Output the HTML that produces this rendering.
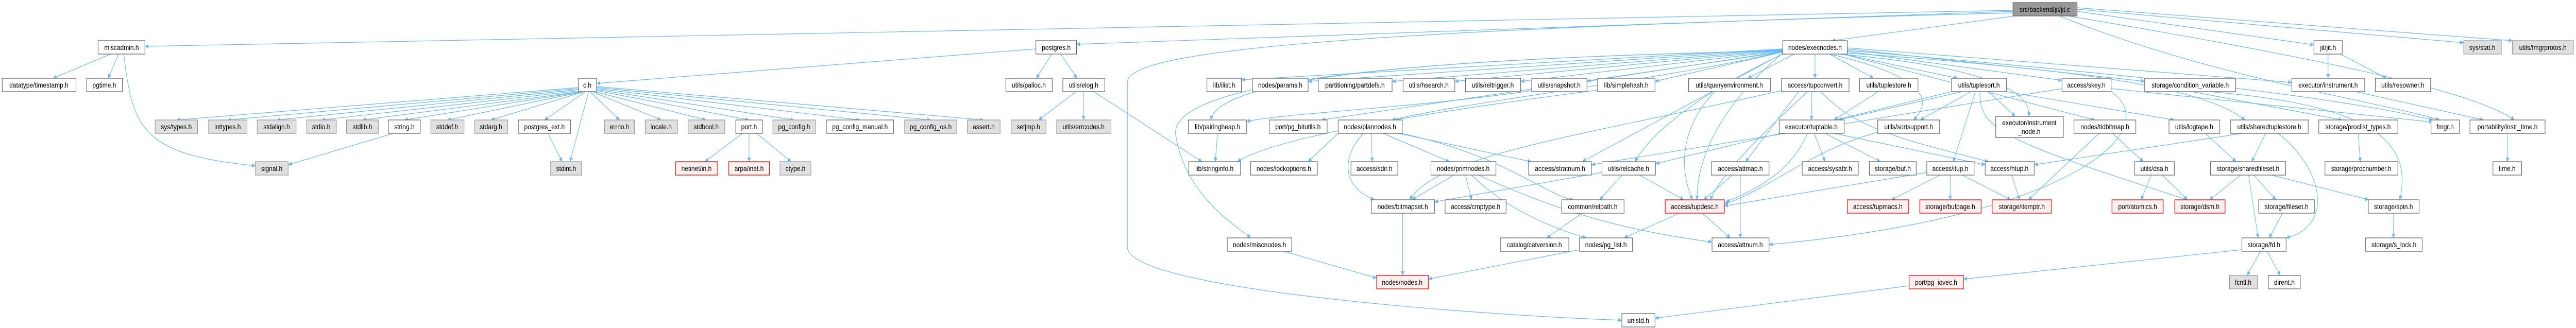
<!DOCTYPE html>
<html><head><meta charset="utf-8"><style>
html,body{margin:0;padding:0;background:#fff;width:100%;height:100%;overflow:hidden;}
svg{display:block;width:100%;height:100%;}
text{font-family:"Liberation Sans",Arial,sans-serif;font-size:14px;fill:#000;text-anchor:middle;}
.n{fill:#fff;stroke:#666;stroke-width:1.3}
.g{fill:#e0e0e0;stroke:#999;stroke-width:1.3}
.r{fill:#fff0f0;stroke:#f00;stroke-width:1.3}
.t{fill:#999;stroke:#666;stroke-width:1.3}
path{fill:none;stroke:#63b8ff;stroke-width:1.2;marker-end:url(#a)}
</style></head><body>
<svg viewBox="0 0 5829 637" preserveAspectRatio="none" xmlns="http://www.w3.org/2000/svg">
<defs><marker id="a" viewBox="0 0 10 10" refX="10" refY="5" markerWidth="11" markerHeight="8" markerUnits="userSpaceOnUse" orient="auto"><polygon points="0,0 10,5 0,10" fill="#63b8ff" style="stroke:none"/></marker></defs>
<g>
<path d="M4555 20 L328 90"/>
<path d="M4555 22 L2436 86"/>
<path d="M4560 31 L4145 79"/>
<path d="M4700 22 L5236 87"/>
<path d="M4700 18 L5575 83"/>
<path d="M4700 15 L5685 79"/>
<path d="M4680 31 C5300 120,5600 180,5690 233"/>
<path d="M4660 31 C5000 150,5400 200,5520 233"/>
<path d="M4555 25 C3000 60,2551 100,2551 160 L2551 480 C2551 560,3300 610,3670 622"/>
<path d="M1309 170 L399 233"/>
<path d="M1309 172 L515 233"/>
<path d="M1309 174 L626 233"/>
<path d="M1312 176 L727 233"/>
<path d="M1315 178 L820 233"/>
<path d="M1318 178 L915 233"/>
<path d="M1320 178 L1012 233"/>
<path d="M1322 178 L1111 233"/>
<path d="M1325 178 L1232 233"/>
<path d="M1332 178 L1290 314"/>
<path d="M1335 178 L1402 233"/>
<path d="M1340 178 L1496 233"/>
<path d="M1345 178 L1598 233"/>
<path d="M1350 176 L1695 233"/>
<path d="M1350 174 L1797 233"/>
<path d="M1350 172 L1946 233"/>
<path d="M1350 170 L2106 233"/>
<path d="M1350 168 L2226 233"/>
<path d="M250 105 L120 152"/>
<path d="M268 105 L245 152"/>
<path d="M280 105 C300 250,320 300,578 322"/>
<path d="M890 259 L652 320"/>
<path d="M1240 259 L1272 314"/>
<path d="M1680 259 L1595 314"/>
<path d="M1695 259 L1695 314"/>
<path d="M1712 259 L1790 314"/>
<path d="M2344 95 L1350 162"/>
<path d="M2380 105 L2345 152"/>
<path d="M2400 105 L2437 152"/>
<path d="M2435 178 L2350 233"/>
<path d="M2452 178 L2452 233"/>
<path d="M2475 178 L2720 314"/>
<path d="M2755 259 L2750 314"/>
<path d="M3615 175 C3300 210,2900 260,2800 314"/>
<path d="M4034 95 L2809 155"/>
<path d="M4034 96 L2960 158"/>
<path d="M4034 97 L3150 158"/>
<path d="M4034 98 L3292 158"/>
<path d="M4034 99 L3441 158"/>
<path d="M4034 100 L3591 158"/>
<path d="M4034 101 L3745 158"/>
<path d="M4060 105 L3955 152"/>
<path d="M4107 105 L4107 152"/>
<path d="M4140 105 L4240 152"/>
<path d="M4170 105 L4430 152"/>
<path d="M4180 100 L4666 156"/>
<path d="M4180 95 L4853 158"/>
<path d="M4180 93 L5186 160"/>
<path d="M4180 98 C4900 150,5300 190,5505 233"/>
<path d="M4034 100 C3800 150,3300 200,3150 233"/>
<path d="M4034 98 C3500 110,2760 130,2740 233"/>
<path d="M4034 99 C3400 110,2650 140,2660 260 C2680 380,2800 440,2830 462"/>
<path d="M4140 105 C4370 150,4370 200,4330 233"/>
<path d="M4160 105 C4500 130,4600 180,4590 226"/>
<path d="M4170 105 L4740 233"/>
<path d="M4180 103 C4800 140,5000 180,5080 233"/>
<path d="M4034 103 C3900 200,3840 300,3840 388"/>
<path d="M4034 105 C3800 200,3720 280,3700 314"/>
<path d="M4034 101 L2990 233"/>
<path d="M4034 104 L3580 314"/>
<path d="M4100 178 L4099 233"/>
<path d="M4070 178 L3950 314"/>
<path d="M4090 178 C4000 250,3900 330,3870 388"/>
<path d="M4120 178 C4200 250,4300 270,4500 314"/>
<path d="M4031 176 C3600 260,3250 300,3190 388"/>
<path d="M4250 178 L4150 233"/>
<path d="M4440 178 L4160 233"/>
<path d="M4460 178 L4345 233"/>
<path d="M4500 178 L4560 226"/>
<path d="M4470 178 L4420 314"/>
<path d="M4540 178 L4920 233"/>
<path d="M4480 178 C4480 250,4520 270,4950 388"/>
<path d="M4416 178 L3746 318"/>
<path d="M4777 178 C4900 250,4700 420,4003 475"/>
<path d="M4666 172 L3601 320"/>
<path d="M4777 172 L5505 237"/>
<path d="M4960 178 L5300 233"/>
<path d="M5000 178 C5300 200,5470 250,5430 388"/>
<path d="M5330 178 L5620 233"/>
<path d="M3880 178 C3800 250,3800 330,3830 388"/>
<path d="M3466 176 C3200 210,2900 220,2821 236"/>
<path d="M5268 105 L5268 152"/>
<path d="M5296 105 L5400 152"/>
<path d="M5674 259 L5674 314"/>
<path d="M5336 259 L5341 314"/>
<path d="M5127 259 L5095 314"/>
<path d="M5155 259 C5260 330,5280 440,5173 462"/>
<path d="M5075 259 L4603 320"/>
<path d="M4990 259 L5060 314"/>
<path d="M5070 340 L5000 388"/>
<path d="M5100 340 L5150 388"/>
<path d="M5088 340 L5110 462"/>
<path d="M5140 340 L5360 388"/>
<path d="M5165 414 L5135 462"/>
<path d="M5115 488 L5085 535"/>
<path d="M5130 488 L5160 535"/>
<path d="M5073 485 L4443 542"/>
<path d="M4320 555 L3745 618"/>
<path d="M5416 414 L5416 462"/>
<path d="M4105 259 L4130 314"/>
<path d="M4130 259 L4255 314"/>
<path d="M4150 259 L4492 320"/>
<path d="M4090 259 C4060 320,4000 360,3905 392"/>
<path d="M4249 257 C4100 290,4000 370,3902 396"/>
<path d="M4390 340 L4280 388"/>
<path d="M4413 340 L4413 388"/>
<path d="M4440 340 L4550 388"/>
<path d="M4360 335 L3902 400"/>
<path d="M4552 340 L4570 388"/>
<path d="M4750 259 L4590 388"/>
<path d="M4780 259 L4850 314"/>
<path d="M4868 340 L4845 388"/>
<path d="M4893 340 L4950 388"/>
<path d="M3103 259 L3105 314"/>
<path d="M3130 259 L3280 314"/>
<path d="M3165 259 L3465 314"/>
<path d="M3085 259 C3040 300,3030 360,3110 388"/>
<path d="M3170 259 C3400 300,3500 380,3560 388"/>
<path d="M3028 259 L2960 314"/>
<path d="M3290 340 L3195 388"/>
<path d="M3316 340 L3330 388"/>
<path d="M3330 340 C3400 400,3500 440,3590 462"/>
<path d="M3345 340 C3550 420,3700 450,3874 470"/>
<path d="M3625 335 L3246 392"/>
<path d="M3670 340 L3620 388"/>
<path d="M3710 340 L3810 388"/>
<path d="M3920 340 L3855 388"/>
<path d="M3938 340 L3938 462"/>
<path d="M3852 414 L3915 462"/>
<path d="M3800 414 L3675 462"/>
<path d="M3580 414 L3500 462"/>
<path d="M3174 414 L3174 535"/>
<path d="M3574 485 L3232 542"/>
<path d="M2905 488 L3115 540"/>
</g>
<g>
<rect class="t" x="4555" y="5" width="145" height="26"/><text x="4627" y="23">src/backend/jit/jit.c</text>
<rect class="n" x="222" y="79" width="106" height="26"/><text x="275" y="97">miscadmin.h</text>
<rect class="n" x="2344" y="79" width="92" height="26"/><text x="2390" y="97">postgres.h</text>
<rect class="n" x="4034" y="79" width="146" height="26"/><text x="4107" y="97">nodes/execnodes.h</text>
<rect class="n" x="5236" y="79" width="64" height="26"/><text x="5268" y="97">jit/jit.h</text>
<rect class="g" x="5575" y="79" width="85" height="26"/><text x="5617" y="97">sys/stat.h</text>
<rect class="g" x="5685" y="79" width="138" height="26"/><text x="5754" y="97">utils/fmgrprotos.h</text>
<rect class="n" x="5" y="152" width="167" height="26"/><text x="88" y="170">datatype/timestamp.h</text>
<rect class="n" x="196" y="152" width="81" height="26"/><text x="236" y="170">pgtime.h</text>
<rect class="n" x="1309" y="152" width="41" height="26"/><text x="1329" y="170">c.h</text>
<rect class="n" x="2276" y="152" width="105" height="26"/><text x="2328" y="170">utils/palloc.h</text>
<rect class="n" x="2405" y="152" width="95" height="26"/><text x="2452" y="170">utils/elog.h</text>
<rect class="n" x="2731" y="152" width="78" height="26"/><text x="2770" y="170">lib/ilist.h</text>
<rect class="n" x="2834" y="152" width="126" height="26"/><text x="2897" y="170">nodes/params.h</text>
<rect class="n" x="2983" y="152" width="167" height="26"/><text x="3066" y="170">partitioning/partdefs.h</text>
<rect class="n" x="3175" y="152" width="117" height="26"/><text x="3233" y="170">utils/hsearch.h</text>
<rect class="n" x="3316" y="152" width="125" height="26"/><text x="3378" y="170">utils/reltrigger.h</text>
<rect class="n" x="3466" y="152" width="125" height="26"/><text x="3528" y="170">utils/snapshot.h</text>
<rect class="n" x="3615" y="152" width="130" height="26"/><text x="3680" y="170">lib/simplehash.h</text>
<rect class="n" x="3821" y="152" width="185" height="26"/><text x="3913" y="170">utils/queryenvironment.h</text>
<rect class="n" x="4031" y="152" width="153" height="26"/><text x="4107" y="170">access/tupconvert.h</text>
<rect class="n" x="4208" y="152" width="132" height="26"/><text x="4274" y="170">utils/tuplestore.h</text>
<rect class="n" x="4416" y="152" width="124" height="26"/><text x="4478" y="170">utils/tuplesort.h</text>
<rect class="n" x="4666" y="152" width="111" height="26"/><text x="4721" y="170">access/skey.h</text>
<rect class="n" x="4853" y="152" width="206" height="26"/><text x="4956" y="170">storage/condition_variable.h</text>
<rect class="n" x="5186" y="152" width="165" height="26"/><text x="5268" y="170">executor/instrument.h</text>
<rect class="n" x="5375" y="152" width="125" height="26"/><text x="5437" y="170">utils/resowner.h</text>
<rect class="g" x="351" y="233" width="96" height="26"/><text x="399" y="251">sys/types.h</text>
<rect class="g" x="472" y="233" width="87" height="26"/><text x="515" y="251">inttypes.h</text>
<rect class="g" x="582" y="233" width="88" height="26"/><text x="626" y="251">stdalign.h</text>
<rect class="g" x="694" y="233" width="67" height="26"/><text x="727" y="251">stdio.h</text>
<rect class="g" x="784" y="233" width="72" height="26"/><text x="820" y="251">stdlib.h</text>
<rect class="n" x="879" y="233" width="72" height="26"/><text x="915" y="251">string.h</text>
<rect class="g" x="975" y="233" width="75" height="26"/><text x="1012" y="251">stddef.h</text>
<rect class="g" x="1074" y="233" width="75" height="26"/><text x="1111" y="251">stdarg.h</text>
<rect class="n" x="1173" y="233" width="118" height="26"/><text x="1232" y="251">postgres_ext.h</text>
<rect class="g" x="1368" y="233" width="68" height="26"/><text x="1402" y="251">errno.h</text>
<rect class="g" x="1460" y="233" width="73" height="26"/><text x="1496" y="251">locale.h</text>
<rect class="g" x="1557" y="233" width="83" height="26"/><text x="1598" y="251">stdbool.h</text>
<rect class="n" x="1665" y="233" width="60" height="26"/><text x="1695" y="251">port.h</text>
<rect class="g" x="1749" y="233" width="97" height="26"/><text x="1797" y="251">pg_config.h</text>
<rect class="n" x="1870" y="233" width="152" height="26"/><text x="1946" y="251">pg_config_manual.h</text>
<rect class="g" x="2047" y="233" width="118" height="26"/><text x="2106" y="251">pg_config_os.h</text>
<rect class="g" x="2189" y="233" width="74" height="26"/><text x="2226" y="251">assert.h</text>
<rect class="g" x="2288" y="233" width="79" height="26"/><text x="2327" y="251">setjmp.h</text>
<rect class="g" x="2391" y="233" width="123" height="26"/><text x="2452" y="251">utils/errcodes.h</text>
<rect class="n" x="2689" y="233" width="132" height="26"/><text x="2755" y="251">lib/pairingheap.h</text>
<rect class="n" x="2872" y="233" width="131" height="26"/><text x="2937" y="251">port/pg_bitutils.h</text>
<rect class="n" x="3028" y="233" width="145" height="26"/><text x="3100" y="251">nodes/plannodes.h</text>
<rect class="n" x="4026" y="233" width="147" height="26"/><text x="4099" y="251">executor/tuptable.h</text>
<rect class="n" x="4249" y="233" width="140" height="26"/><text x="4319" y="251">utils/sortsupport.h</text>
<rect class="n" x="4516" y="226" width="153" height="41"/><text x="4592" y="243">executor/instrument</text><text x="4592" y="260">_node.h</text>
<rect class="n" x="4693" y="233" width="140" height="26"/><text x="4763" y="251">nodes/tidbitmap.h</text>
<rect class="n" x="4908" y="233" width="115" height="26"/><text x="4965" y="251">utils/logtape.h</text>
<rect class="n" x="5047" y="233" width="176" height="26"/><text x="5135" y="251">utils/sharedtuplestore.h</text>
<rect class="n" x="5247" y="233" width="179" height="26"/><text x="5336" y="251">storage/proclist_types.h</text>
<rect class="n" x="5501" y="233" width="64" height="26"/><text x="5533" y="251">fmgr.h</text>
<rect class="n" x="5589" y="233" width="170" height="26"/><text x="5674" y="251">portability/instr_time.h</text>
<rect class="g" x="578" y="314" width="74" height="26"/><text x="615" y="332">signal.h</text>
<rect class="g" x="1246" y="314" width="70" height="26"/><text x="1281" y="332">stdint.h</text>
<rect class="r" x="1529" y="314" width="95" height="26"/><text x="1576" y="332">netinet/in.h</text>
<rect class="r" x="1649" y="314" width="92" height="26"/><text x="1695" y="332">arpa/inet.h</text>
<rect class="g" x="1765" y="314" width="70" height="26"/><text x="1800" y="332">ctype.h</text>
<rect class="n" x="2690" y="314" width="117" height="26"/><text x="2748" y="332">lib/stringinfo.h</text>
<rect class="n" x="2830" y="314" width="151" height="26"/><text x="2905" y="332">nodes/lockoptions.h</text>
<rect class="n" x="3057" y="314" width="106" height="26"/><text x="3110" y="332">access/sdir.h</text>
<rect class="n" x="3238" y="314" width="147" height="26"/><text x="3311" y="332">nodes/primnodes.h</text>
<rect class="n" x="3459" y="314" width="142" height="26"/><text x="3530" y="332">access/stratnum.h</text>
<rect class="n" x="3625" y="314" width="121" height="26"/><text x="3685" y="332">utils/relcache.h</text>
<rect class="n" x="3873" y="314" width="130" height="26"/><text x="3938" y="332">access/attmap.h</text>
<rect class="n" x="4078" y="314" width="127" height="26"/><text x="4141" y="332">access/sysattr.h</text>
<rect class="n" x="4230" y="314" width="106" height="26"/><text x="4283" y="332">storage/buf.h</text>
<rect class="n" x="4360" y="314" width="107" height="26"/><text x="4413" y="332">access/itup.h</text>
<rect class="n" x="4492" y="314" width="111" height="26"/><text x="4547" y="332">access/htup.h</text>
<rect class="n" x="4830" y="314" width="90" height="26"/><text x="4875" y="332">utils/dsa.h</text>
<rect class="n" x="5002" y="314" width="170" height="26"/><text x="5087" y="332">storage/sharedfileset.h</text>
<rect class="n" x="5261" y="314" width="165" height="26"/><text x="5343" y="332">storage/procnumber.h</text>
<rect class="n" x="5641" y="314" width="65" height="26"/><text x="5673" y="332">time.h</text>
<rect class="n" x="3103" y="388" width="143" height="26"/><text x="3174" y="406">nodes/bitmapset.h</text>
<rect class="n" x="3270" y="388" width="138" height="26"/><text x="3339" y="406">access/cmptype.h</text>
<rect class="n" x="3534" y="388" width="141" height="26"/><text x="3604" y="406">common/relpath.h</text>
<rect class="r" x="3768" y="388" width="134" height="26"/><text x="3835" y="406">access/tupdesc.h</text>
<rect class="r" x="4180" y="388" width="139" height="26"/><text x="4249" y="406">access/tupmacs.h</text>
<rect class="r" x="4344" y="388" width="139" height="26"/><text x="4413" y="406">storage/bufpage.h</text>
<rect class="r" x="4508" y="388" width="134" height="26"/><text x="4575" y="406">storage/itemptr.h</text>
<rect class="r" x="4779" y="388" width="116" height="26"/><text x="4837" y="406">port/atomics.h</text>
<rect class="r" x="4921" y="388" width="114" height="26"/><text x="4978" y="406">storage/dsm.h</text>
<rect class="n" x="5111" y="388" width="126" height="26"/><text x="5174" y="406">storage/fileset.h</text>
<rect class="n" x="5359" y="388" width="115" height="26"/><text x="5416" y="406">storage/spin.h</text>
<rect class="n" x="2777" y="462" width="146" height="26"/><text x="2850" y="480">nodes/miscnodes.h</text>
<rect class="n" x="3395" y="462" width="155" height="26"/><text x="3472" y="480">catalog/catversion.h</text>
<rect class="n" x="3574" y="462" width="120" height="26"/><text x="3634" y="480">nodes/pg_list.h</text>
<rect class="n" x="3874" y="462" width="129" height="26"/><text x="3938" y="480">access/attnum.h</text>
<rect class="n" x="5073" y="462" width="100" height="26"/><text x="5123" y="480">storage/fd.h</text>
<rect class="n" x="5353" y="462" width="128" height="26"/><text x="5417" y="480">storage/s_lock.h</text>
<rect class="r" x="3115" y="535" width="117" height="26"/><text x="3173" y="553">nodes/nodes.h</text>
<rect class="r" x="4320" y="535" width="123" height="26"/><text x="4381" y="553">port/pg_iovec.h</text>
<rect class="g" x="5045" y="535" width="63" height="26"/><text x="5076" y="553">fcntl.h</text>
<rect class="n" x="5133" y="535" width="72" height="26"/><text x="5169" y="553">dirent.h</text>
<rect class="n" x="3670" y="609" width="75" height="26"/><text x="3707" y="627">unistd.h</text>
</g>
</svg>
</body></html>
